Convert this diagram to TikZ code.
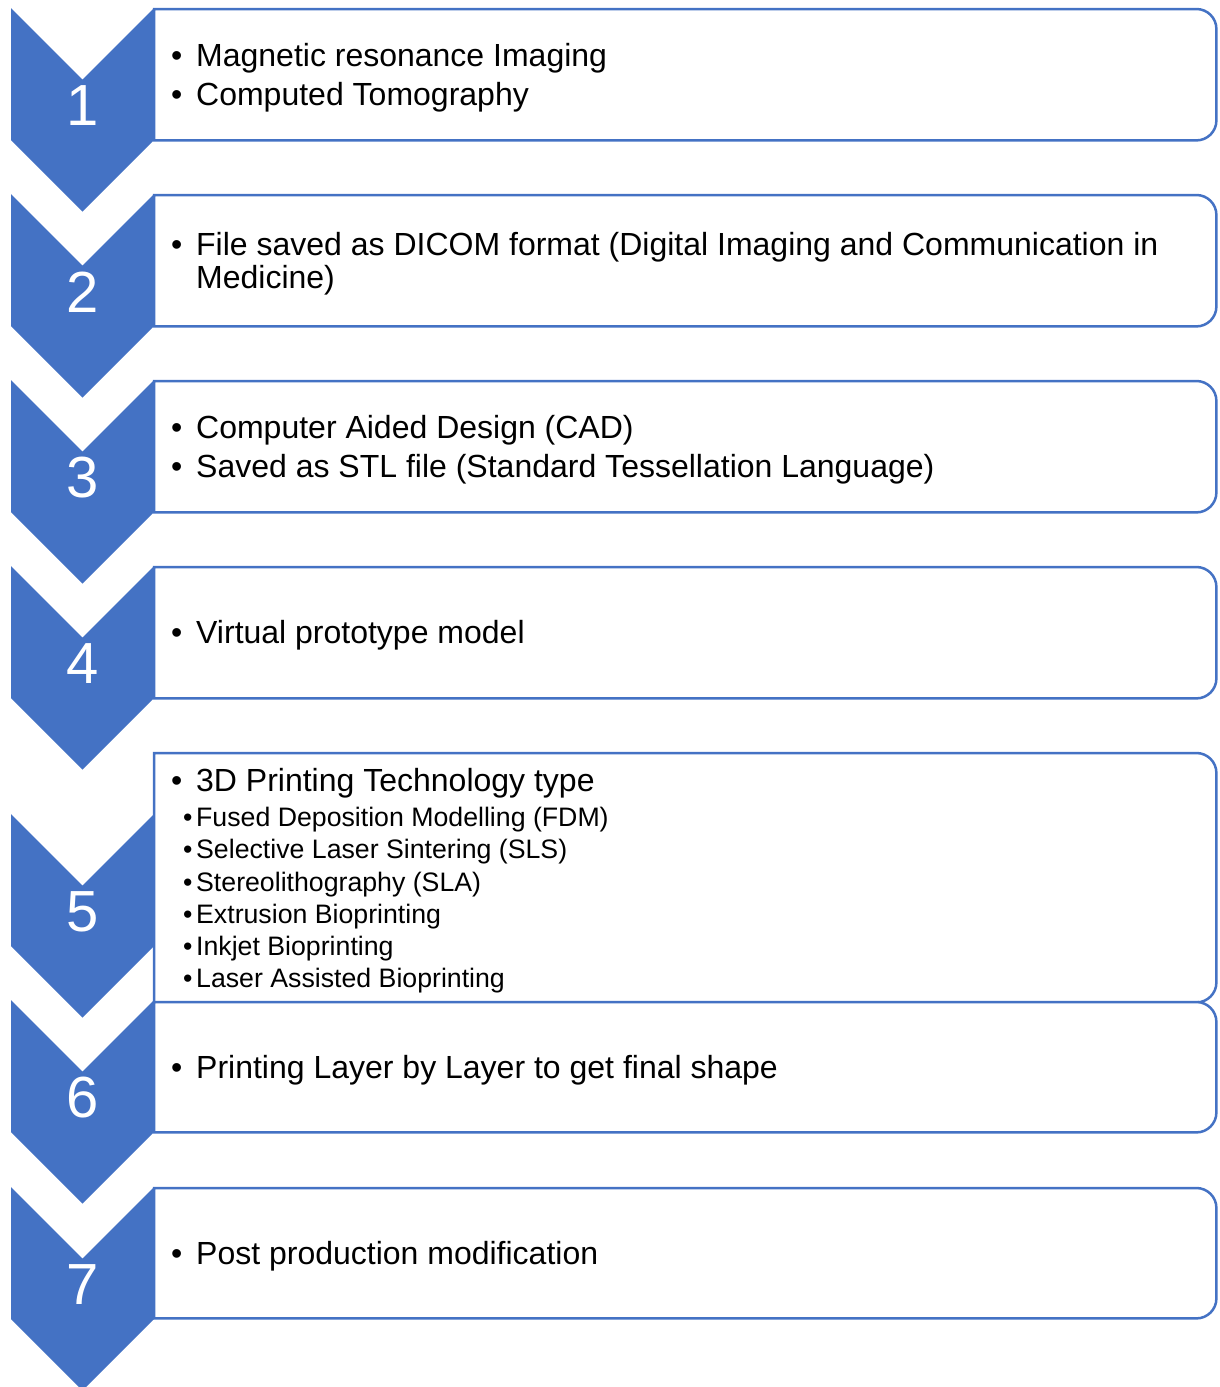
\documentclass[tikz,border=0pt]{standalone}
\usepackage{fontspec}
\setmainfont{Liberation Sans}
\usetikzlibrary{positioning}
\definecolor{chevblue}{HTML}{4472C4}
\newcommand{\bul}{\makebox[25pt][l]{\textbullet}}
\newcommand{\subitm}[1]{{\fontsize{26.7}{32.2}\selectfont\hspace*{12pt}\makebox[13pt][l]{\textbullet}#1}}

\begin{document}
\begin{tikzpicture}[x=1pt,y=1pt,
  panel/.style={inner sep=0pt,anchor=north west,minimum width=1062pt},
  boxtext/.style={anchor=west,align=left,inner sep=0pt,yshift=-3pt,font=\fontsize{32}{32.2}\selectfont},
  numlbl/.style={text=white,inner sep=0pt,font=\fontsize{58}{58}\selectfont}]
  \useasboundingbox (0,0) rectangle (1220,-1387);
  \foreach \n/\t/\h in {1/9/131,2/195/131,3/381/131,4/567/131,5/753/249,6/1002/130,7/1188/130}{
    \node[panel,minimum height=\h pt] (box\n) at (154,-\t) {};
    \draw[chevblue,line width=2.5pt,fill=white] (box\n.north west) -- ([xshift=-20pt]box\n.north east)
      arc[start angle=90,end angle=0,radius=20pt] -- ([yshift=20pt]box\n.south east)
      arc[start angle=0,end angle=-90,radius=20pt] -- (box\n.south west) -- cycle;
  }
  \foreach \n/\t in {1/8,2/194,3/380,4/566,5/814,6/1000,7/1187}{
    \fill[chevblue] (11,-\t) -- (82.5,-\t-71.5) -- (154,-\t) -- (154,-\t-132)
      -- (82.5,-\t-203.5) -- (11,-\t-132) -- cycle;
    \node[numlbl] (num\n) at (82.5,-\t-98) {\n};
  }
  \node[boxtext,right=17pt of box1.west] (txt1) {\bul Magnetic resonance Imaging\\[6pt]\bul Computed Tomography};
  \node[boxtext,right=17pt of box2.west] (txt2) {\bul File saved as DICOM format (Digital Imaging and Communication in\\\hspace*{25pt}Medicine)};
  \node[boxtext,right=17pt of box3.west] (txt3) {\bul Computer Aided Design (CAD)\\[6pt]\bul Saved as STL file (Standard Tessellation Language)};
  \node[boxtext,right=17pt of box4.west] (txt4) {\bul Virtual prototype model};
  \node[boxtext,right=17pt of box5.west] (txt5) {\bul 3D Printing Technology type\\[3pt]
    \subitm{Fused Deposition Modelling (FDM)}\\
    \subitm{Selective Laser Sintering (SLS)}\\
    \subitm{Stereolithography (SLA)}\\
    \subitm{Extrusion Bioprinting}\\
    \subitm{Inkjet Bioprinting}\\
    \subitm{Laser Assisted Bioprinting}};
  \node[boxtext,right=17pt of box6.west] (txt6) {\bul Printing Layer by Layer to get final shape};
  \node[boxtext,right=17pt of box7.west] (txt7) {\bul Post production modification};
\end{tikzpicture}
\end{document}
